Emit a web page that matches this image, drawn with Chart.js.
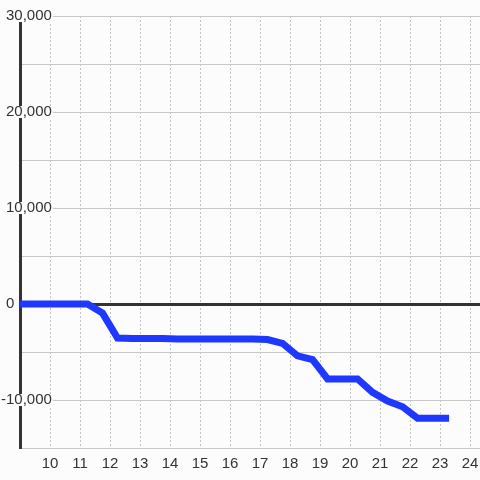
<!DOCTYPE html>
<html>
<head>
<meta charset="utf-8">
<script src="https://cdn.jsdelivr.net/npm/chart.js@4/dist/chart.umd.min.js"></script>
<style>
  html, body { margin: 0; padding: 0; background: #fbfcfb; }
  #wrap { width: 480px; height: 480px; }
</style>
</head>
<body>
<div id="wrap"><canvas id="c"></canvas></div>
<script>
// hours on the x axis, value on the y axis
var hours = [8.75, 9.25, 9.75, 10.25, 10.75, 11.25, 11.75, 12.25, 12.75, 13.25,
             13.75, 14.25, 14.75, 15.25, 15.75, 16.25, 16.75, 17.25, 17.75, 18.25,
             18.75, 19.25, 19.75, 20.25, 20.75, 21.25, 21.75, 22.25, 22.75, 23.3];
var values = [0, 0, 0, 0, 0, 0, -950, -3550, -3600, -3600,
              -3600, -3650, -3650, -3650, -3650, -3650, -3650, -3700, -4100, -5400,
              -5800, -7800, -7800, -7800, -9200, -10100, -10700, -11900, -11900, -11900];
var xTicks = [10, 11, 12, 13, 14, 15, 16, 17, 18, 19, 20, 21, 22, 23, 24];
var yLabels = [-10000, 0, 10000, 20000, 30000];

var bg = '#fbfcfb';
var points = [];
for (var i = 0; i < hours.length; i++) {
    points.push({x: hours[i], y: values[i]});
}

var ctx = document.getElementById('c').getContext('2d');
var chart = new Chart(ctx, {
    type: 'line',
    data: {
        datasets: [{
            data: points,
            borderColor: '#1e38ff',
            borderWidth: 7,
            pointRadius: 0,
            fill: false,
            tension: 0
        }]
    },
    options: {
        responsive: true,
        maintainAspectRatio: false,
        animation: false,
        layout: { padding: { top: 16, right: 0, bottom: 0, left: 0 } },
        plugins: { legend: { display: false }, tooltip: { enabled: false } },
        scales: {
            x: {
                type: 'linear',
                min: 9,
                max: 24.33,
                border: { display: false, dash: [2, 2] },
                grid: {
                    drawTicks: false,
                    color: function(c) { return c.tick && c.tick.value === 9 ? 'rgba(0,0,0,0)' : '#c4c4c4'; },
                    lineWidth: 1
                },
                ticks: {
                    stepSize: 1,
                    padding: 7,
                    color: '#333',
                    font: { family: 'Liberation Sans', size: 15 },
                    callback: function(v) { return xTicks.indexOf(v) >= 0 ? String(v) : ''; }
                },
                afterBuildTicks: function(s) {
                    var t = [{value: 9}];
                    xTicks.forEach(function(v) { t.push({value: v}); });
                    s.ticks = t;
                },
                afterFit: function(s) { s.paddingLeft = 0; s.paddingRight = 0; }
            },
            y: {
                min: -15000,
                max: 30000,
                border: { display: true, color: '#333', width: 3 },
                grid: {
                    drawTicks: false,
                    color: function(c) { return c.tick && c.tick.value === 0 ? '#333' : '#c8c8c8'; },
                    lineWidth: function(c) { return c.tick && c.tick.value === 0 ? 3 : 1; }
                },
                ticks: {
                    stepSize: 5000,
                    mirror: true,
                    padding: -19,
                    crossAlign: 'far',
                    color: '#333',
                    font: { family: 'Liberation Sans', size: 15 },
                    showLabelBackdrop: true,
                    backdropColor: function(c) {
                        var v = c.tick ? c.tick.value : null;
                        return (v !== 0 && yLabels.indexOf(v) >= 0) ? bg : 'rgba(0,0,0,0)';
                    },
                    backdropPadding: { top: -3, bottom: -3, left: 1, right: 1 },
                    callback: function(v) {
                        if (yLabels.indexOf(v) < 0) return '';
                        if (v === 0) return '0         ';
                        return v.toLocaleString('en-US');
                    }
                },
                afterFit: function(s) { s.width = 20; }
            }
        }
    }
});
</script>
</body>
</html>
